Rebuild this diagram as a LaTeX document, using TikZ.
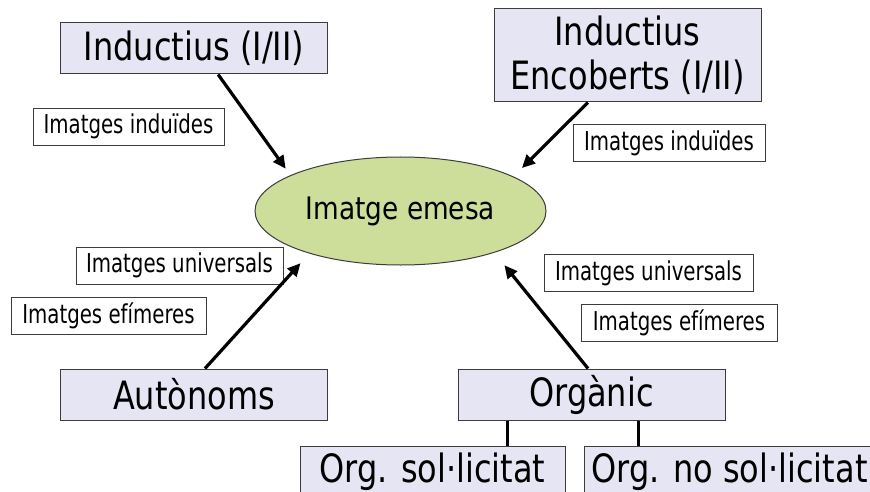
\documentclass[tikz,border=0pt]{standalone}
\usepackage{fontspec}
\setmainfont{DejaVu Sans}
\newfontfamily\bigf[FakeStretch=0.82]{DejaVu Sans}
\newfontfamily\midf[FakeStretch=0.85]{DejaVu Sans}
\newfontfamily\smallf[FakeStretch=0.76]{DejaVu Sans}
\usetikzlibrary{shapes.geometric,arrows.meta,calc}

\definecolor{boxfill}{RGB}{230,229,243}
\definecolor{ovalfill}{RGB}{205,222,154}
\definecolor{edge}{RGB}{60,60,60}

\tikzset{
  bigbox/.style={draw=edge, line width=1pt, fill=boxfill, inner sep=2pt,
    minimum width=267pt, minimum height=51pt, align=center,
    font=\bigf\fontsize{39}{44}\selectfont},
  tag/.style={draw=edge, line width=0.9pt, fill=white, inner sep=0pt,
    minimum height=37pt, font=\smallf\fontsize{26}{28}\selectfont},
  oval/.style={ellipse, draw=edge, line width=1pt, fill=ovalfill, inner sep=0pt,
    minimum width=291pt, minimum height=108pt,
    font=\midf\fontsize{31}{34}\selectfont},
  arr/.style={line width=3.2pt, -{Triangle[length=13pt,width=12pt]}},
  conn/.style={line width=3.2pt}
}

\begin{document}
\begin{tikzpicture}[x=1pt, y=-1pt]
  \useasboundingbox (0,0) rectangle (870,492);

  % central oval
  \node[oval] (em) at (400.5,211) {Imatge emesa};

  % source boxes
  \node[bigbox] (ind) at (194,48.5) {Inductius (I/II)};
  \node[bigbox, minimum height=93pt] (enc) at (627.5,55.5) {Inductius\\Encoberts (I/II)};
  \node[bigbox] (aut) at (194,394.5) {Autònoms};
  \node[bigbox] (org) at (591.5,394.5) {Orgànic};
  \node[bigbox, minimum width=265pt] (sol) at (432.5,471.5) {Org. sol·licitat};
  \node[bigbox, minimum width=290pt, anchor=west] (nosol) at (584,471.5) {Org. no sol·licitat};

  % image-type tags
  \node[tag, minimum width=191pt] (tindL) at (128.5,126.5) {Imatges induïdes};
  \node[tag, minimum width=192pt] (tindR) at (669,143) {Imatges induïdes};
  \node[tag, minimum width=207pt] (tuniL) at (179.5,265.5) {Imatges universals};
  \node[tag, minimum width=195pt] (tefiL) at (108.5,316) {Imatges efímeres};
  \node[tag, minimum width=209pt] (tuniR) at (648.5,273) {Imatges universals};
  \node[tag, minimum width=196pt] (tefiR) at (679,323) {Imatges efímeres};

  % arrows into the oval
  \draw[arr, shorten >=8pt]  ($(ind.south west)!0.59!(ind.south east)$) -- (em.162);
  \draw[arr, shorten >=12pt] ($(enc.south west)!0.352!(enc.south east)$) -- (em.17);
  \draw[arr, shorten >=13pt] ($(aut.north west)!0.541!(aut.north east)$) -- (em.205);
  \draw[arr, shorten >=16pt] ($(org.north west)!0.487!(org.north east)$) -- (em.336);

  % Orgànic split into its two kinds
  \coordinate (s1) at ($(org.south west)!0.187!(org.south east)$);
  \coordinate (s2) at ($(org.south west)!0.674!(org.south east)$);
  \draw[conn] (s1) -- (s1 |- sol.north);
  \draw[conn] (s2) -- (s2 |- nosol.north);
\end{tikzpicture}
\end{document}
